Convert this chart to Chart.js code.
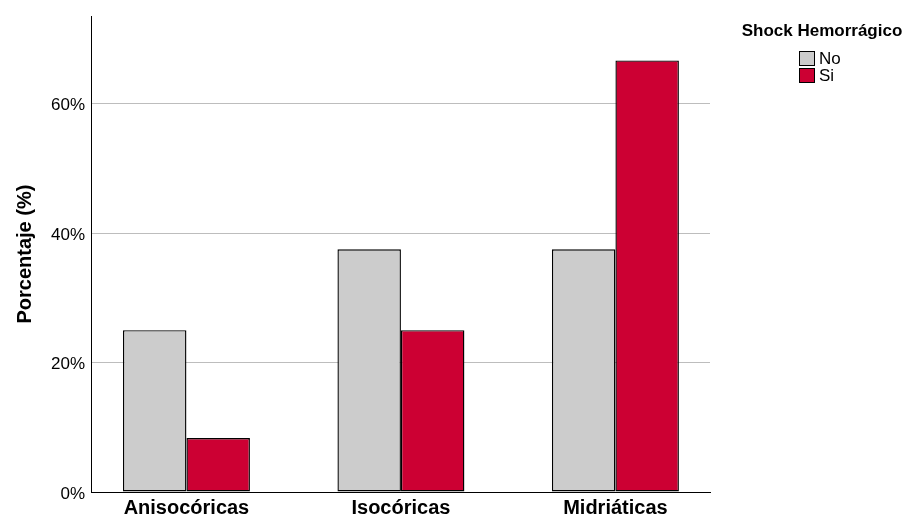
<!DOCTYPE html>
<html>
<head>
<meta charset="utf-8">
<script src="https://cdn.jsdelivr.net/npm/chart.js@4/dist/chart.umd.min.js"></script>
<style>
  html, body { margin: 0; padding: 0; background: #fff; overflow: hidden; }
  #c { display: block; }
</style>
</head>
<body>
<canvas id="c" width="910" height="521"></canvas>
<script>
const categories = ["Anisocóricas", "Isocóricas", "Midriáticas"];
const seriesNames = ["No", "Si"];
const valuesNo = [25.0, 37.5, 37.5];
const valuesSi = [8.33, 25.0, 66.67];
const yTicks = [0, 20, 40, 60];
const legendTitle = "Shock Hemorrágico";
const yTitle = "Porcentaje (%)";

const colors = ["#cccccc", "#cc0033"];
const FONT = "'Liberation Sans', Arial, sans-serif";

const legendPlugin = {
  id: 'customLegend',
  afterDraw(chart) {
    const ctx = chart.ctx;
    ctx.save();
    ctx.font = "bold 17px " + FONT;
    ctx.fillStyle = "#000";
    ctx.textAlign = "center";
    ctx.textBaseline = "middle";
    ctx.fillText(legendTitle, 822, 31);
    ctx.font = "17px " + FONT;
    ctx.textAlign = "left";
    seriesNames.forEach((name, i) => {
      const y = 51 + i * 17;
      ctx.fillStyle = colors[i];
      ctx.fillRect(799.5, y + 0.5, 15, 14);
      ctx.strokeStyle = "#000";
      ctx.lineWidth = 1;
      ctx.strokeRect(799.5, y + 0.5, 15, 14);
      ctx.fillStyle = "#000";
      ctx.fillText(name, 819, y + 8);
    });
    ctx.restore();
  }
};

new Chart(document.getElementById('c'), {
  type: 'bar',
  data: {
    datasets: [
      { label: seriesNames[0], data: valuesNo.map((v, i) => ({x: i, y: v})), backgroundColor: colors[0], borderColor: "#000", borderWidth: 1.4, borderSkipped: false, inflateAmount: 0 },
      { label: seriesNames[1], data: valuesSi.map((v, i) => ({x: i, y: v})), backgroundColor: colors[1], borderColor: "#000", borderWidth: 1.4, borderSkipped: false, inflateAmount: 0 }
    ]
  },
  options: {
    responsive: false,
    maintainAspectRatio: false,
    animation: false,
    devicePixelRatio: 1,
    layout: { padding: { left: 0, right: 200, top: 15, bottom: 0 } },
    datasets: { bar: { categoryPercentage: 0.592, barPercentage: 1.0 } },
    plugins: { legend: { display: false }, tooltip: { enabled: false } },
    scales: {
      x: {
        type: 'linear',
        offset: false,
        min: -0.445,
        max: 2.441,
        grid: { display: false, drawTicks: false, offset: false },
        border: { display: true, color: "#000", width: 1 },
        afterFit(scale) { scale.height = 29; },
        afterBuildTicks(scale) { scale.ticks = categories.map((c, i) => ({ value: i })); },
        ticks: {
          autoSkip: false,
          maxRotation: 0,
          padding: 4,
          color: "#000",
          font: { family: FONT, size: 20, weight: 'bold' },
          callback: (v) => categories[v] !== undefined ? categories[v] : ''
        }
      },
      y: {
        min: 0,
        max: 73.5,
        afterFit(scale) { scale.width = 91; },
        afterBuildTicks(scale) { scale.ticks = yTicks.map(v => ({ value: v })); },
        grid: { display: true, drawTicks: false, color: (c) => c.tick && c.tick.value === 0 ? 'rgba(0,0,0,0)' : '#bdbdbd', lineWidth: 1 },
        border: { display: true, color: "#000", width: 1 },
        title: { display: true, text: yTitle, color: "#000", font: { family: FONT, size: 20, weight: 'bold' }, padding: { top: 13, bottom: 0 } },
        ticks: {
          padding: 6,
          labelOffset: 2,
          color: "#000",
          font: { family: FONT, size: 17 },
          callback: (v) => v + '%'
        }
      }
    }
  },
  plugins: [legendPlugin]
});
</script>
</body>
</html>
